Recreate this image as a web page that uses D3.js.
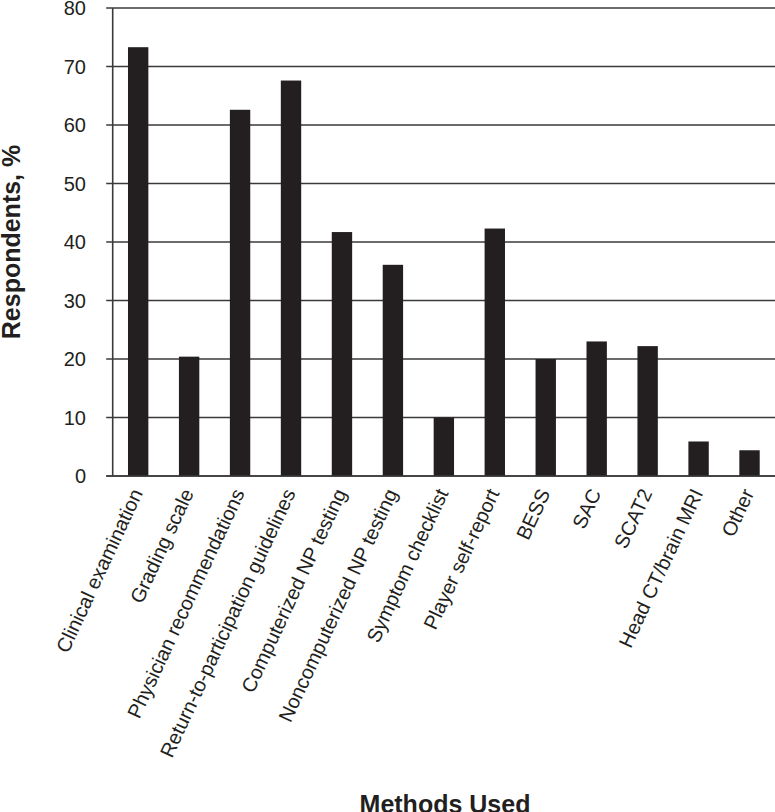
<!DOCTYPE html>
<html>
<head>
<meta charset="utf-8">
<script src="https://cdn.jsdelivr.net/npm/d3@7"></script>
<style>
  html, body { margin: 0; padding: 0; background: #fff; }
  svg { display: block; font-family: "Liberation Sans", Arial, sans-serif; }
</style>
</head>
<body>
<svg id="chart" width="775" height="812"></svg>
<script>
const categories = [
  "Clinical examination",
  "Grading scale",
  "Physician recommendations",
  "Return-to-participation guidelines",
  "Computerized NP testing",
  "Noncomputerized NP testing",
  "Symptom checklist",
  "Player self-report",
  "BESS",
  "SAC",
  "SCAT2",
  "Head CT/brain MRI",
  "Other"
];
const values = [73.3, 20.4, 62.6, 67.6, 41.7, 36.1, 10.0, 42.3, 20.0, 23.0, 22.2, 5.9, 4.4];
const yTicks = [0, 10, 20, 30, 40, 50, 60, 70, 80];
const yTitle = "Respondents, %";
const xTitle = "Methods Used";

const svg = d3.select("#chart");
const plotLeft = 112.7, plotRight = 775, plotTop = 8, plotBottom = 476;

const x = d3.scaleBand()
  .domain(categories)
  .range([plotLeft, plotRight])
  .paddingInner(0.6)
  .paddingOuter(0.3);

const y = d3.scaleLinear().domain([0, 80]).range([plotBottom, plotTop]);

// gridlines + left ticks
svg.append("g").selectAll("line")
  .data(yTicks)
  .join("line")
  .attr("x1", plotLeft - 6.5)
  .attr("x2", plotRight)
  .attr("y1", d => y(d))
  .attr("y2", d => y(d))
  .attr("stroke", "#3a3a3a")
  .attr("stroke-width", 1.6);

// y tick labels
svg.append("g").selectAll("text")
  .data(yTicks)
  .join("text")
  .attr("x", 86)
  .attr("y", d => y(d))
  .attr("dy", "0.36em")
  .attr("text-anchor", "end")
  .attr("font-size", 20)
  .attr("fill", "#231f20")
  .text(d => d);

// y axis line
svg.append("line")
  .attr("x1", plotLeft).attr("x2", plotLeft)
  .attr("y1", plotTop).attr("y2", plotBottom)
  .attr("stroke", "#3a3a3a")
  .attr("stroke-width", 1.6);

// bars
svg.append("g").selectAll("rect")
  .data(values)
  .join("rect")
  .attr("x", (d, i) => x(categories[i]))
  .attr("width", x.bandwidth())
  .attr("y", d => y(d))
  .attr("height", d => y(0) - y(d))
  .attr("fill", "#231f20");

// baseline redraw
svg.append("line")
  .attr("x1", plotLeft - 6.5).attr("x2", plotRight)
  .attr("y1", plotBottom).attr("y2", plotBottom)
  .attr("stroke", "#3a3a3a")
  .attr("stroke-width", 1.6);

// x labels
svg.append("g").selectAll("text")
  .data(categories)
  .join("text")
  .attr("transform", d => `translate(${x(d) + x.bandwidth() / 2 + 5},${plotBottom + 17}) rotate(-65)`)
  .attr("text-anchor", "end")
  .attr("font-size", 20)
  .attr("fill", "#231f20")
  .text(d => d);

// axis titles
svg.append("text")
  .attr("transform", `translate(19.5,${(plotTop + plotBottom) / 2}) rotate(-90)`)
  .attr("text-anchor", "middle")
  .attr("font-size", 25)
  .attr("font-weight", "bold")
  .attr("fill", "#231f20")
  .text(yTitle);

svg.append("text")
  .attr("x", 445)
  .attr("y", 813)
  .attr("text-anchor", "middle")
  .attr("font-size", 25)
  .attr("font-weight", "bold")
  .attr("fill", "#231f20")
  .text(xTitle);
</script>
</body>
</html>
